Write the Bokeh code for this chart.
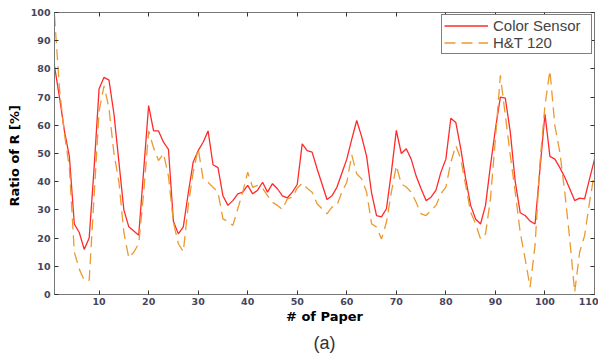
from bokeh.plotting import figure
from bokeh.models import (Range1d, LinearAxis, FixedTicker, Legend, LegendItem, Title,
                          CustomLabelingPolicy)
from bokeh.embed import file_html
from bokeh.resources import INLINE

paper = list(range(1, 111))
color_sensor = [81, 70, 58, 49, 25, 22, 16, 20, 45, 73,
                77, 76, 64, 47, 30, 24, 22.5, 21, 44, 67,
                58, 58, 54, 51.5, 26, 21.5, 24, 36, 47, 51,
                54, 58, 46, 45, 35, 31.6, 33.3, 35.7, 36.3, 38.7,
                35.7, 37, 39.8, 36.3, 39.3, 37.5, 35, 34.3, 36.3, 39,
                53.4, 51, 50.5, 44.6, 39.2, 33.7, 35, 38, 43, 48,
                55, 61.7, 56, 49, 36, 28, 27.5, 30.4, 43.4, 58.2,
                50, 51.7, 48, 42, 37.5, 33.3, 34.5, 37, 43.4, 48,
                62.5, 61, 51.7, 41, 31.6, 26.8, 25, 31.6, 45.7, 58.7,
                70, 69.6, 57.6, 40, 29, 28, 26, 25, 44.6, 64,
                49, 48, 45, 41.6, 37.5, 33.3, 34.2, 33.9, 41, 47.9]
ht120 = [99, 73, 57, 45, 15, 9, 5, 5, 35, 65,
         74, 66, 50, 40, 22, 13, 15, 18, 36, 58,
         52, 47.5, 50, 42, 25.6, 18, 15.2, 31.6, 43.4, 51.7,
         41, 39.8, 38, 36.3, 26.8, 25.9, 24.5, 30.4, 36.3, 43.4,
         38, 38.7, 37.7, 35.1, 32.7, 31.6, 30.2, 33.9, 34.5, 37.7,
         39.5, 37.7, 36.3, 32.2, 30.4, 28.6, 31, 31.6, 36.3, 39.8,
         49.5, 42.8, 41, 36.3, 25.1, 23.9, 19.7, 25.6, 36.3, 45.7,
         39.2, 38.1, 36.3, 32.7, 28.6, 28, 29.8, 31.6, 35.7, 38.1,
         46.9, 52.8, 48.1, 38.7, 29.2, 25.1, 19.7, 21.5, 33.9, 55.2,
         77.7, 63.5, 49.3, 36.3, 22.1, 12.6, 2.6, 17.4, 46.9, 67,
         79.4, 59.9, 50.5, 36.3, 19.7, 0.8, 15, 20.9, 32.7, 43.4]
x_ticks = [10, 20, 30, 40, 50, 60, 70, 80, 90, 100, 110]
y_ticks = [0, 10, 20, 30, 40, 50, 60, 70, 80, 90, 100]

AXC = "#777777"
LBLC = "#45455c"

p = figure(width=598, height=356, output_backend="svg", toolbar_location=None,
           x_range=Range1d(1, 110), y_range=Range1d(0, 100),
           min_border_left=54, min_border_right=4, min_border_top=12, min_border_bottom=62,
           background_fill_color="white", border_fill_color="white")
p.grid.visible = False
p.outline_line_color = AXC

for ax in (p.xaxis[0], p.yaxis[0]):
    ax.axis_line_color = AXC
    ax.major_tick_line_color = "#333333"
    ax.major_tick_in = 4
    ax.major_tick_out = 0
    ax.minor_tick_line_color = None
    ax.major_label_text_font = "DejaVu Sans"
    ax.major_label_text_font_size = "9.5px"
    ax.major_label_text_font_style = "bold"
    ax.major_label_text_color = LBLC
    ax.axis_label_text_font = "DejaVu Sans"
    ax.axis_label_text_font_size = "13px"
    ax.axis_label_text_font_style = "bold"
    ax.axis_label_text_color = "black"

p.xaxis[0].ticker = FixedTicker(ticks=x_ticks)
p.yaxis[0].ticker = FixedTicker(ticks=y_ticks)
p.xaxis[0].axis_label = "# of Paper"
p.yaxis[0].axis_label = "Ratio of R  [%]"
p.xaxis[0].major_label_standoff = 3
p.yaxis[0].major_label_standoff = 4
p.xaxis[0].axis_label_standoff = 1
p.yaxis[0].axis_label_standoff = 6

no_labels = CustomLabelingPolicy(code="indices.clear(); return indices")
top = LinearAxis(ticker=FixedTicker(ticks=x_ticks), major_label_policy=no_labels,
                 major_label_text_font_size="9.5px", major_label_text_color=None,
                 axis_line_color=AXC, major_tick_line_color="#333333",
                 major_tick_in=4, major_tick_out=0, minor_tick_line_color=None)
right = LinearAxis(ticker=FixedTicker(ticks=y_ticks), major_label_policy=no_labels,
                   major_label_text_font_size="9.5px", major_label_text_color=None,
                   axis_line_color=AXC, major_tick_line_color="#333333",
                   major_tick_in=4, major_tick_out=0, minor_tick_line_color=None)
p.add_layout(top, "above")
p.add_layout(right, "right")

r1 = p.line(paper, color_sensor, line_color="#ff2a2a", line_width=1.3)
r2 = p.line(paper, ht120, line_color="#eb9a30", line_width=1.3, line_dash="11 6")

leg = Legend(items=[LegendItem(label="Color Sensor", renderers=[r1]),
                    LegendItem(label="H&T 120", renderers=[r2])],
             location="top_right", margin=2, padding=2, spacing=0,
             label_text_font="Liberation Sans", label_text_font_size="15px",
             label_height=15, glyph_height=15, glyph_width=44, label_standoff=5,
             label_width=96,
             border_line_color="black", border_line_width=1,
             background_fill_alpha=1.0)
p.add_layout(leg)

cap = Title(text="(a)", align="center", text_font="Liberation Sans",
            text_font_size="18px", text_font_style="normal", text_color="#333333",
            standoff=8)
p.add_layout(cap, "below")

open("out.html", "w").write(file_html(p, INLINE))
